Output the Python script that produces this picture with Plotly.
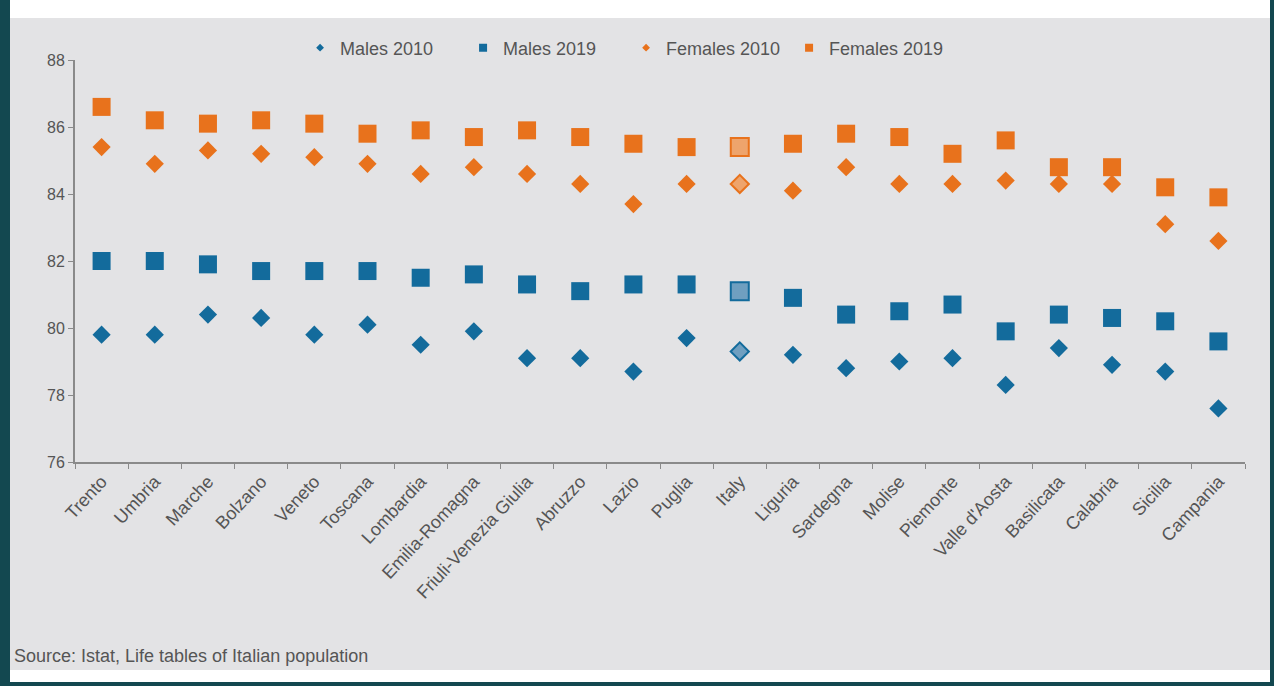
import plotly.graph_objects as go

regions = ["Trento", "Umbria", "Marche", "Bolzano", "Veneto", "Toscana", "Lombardia",
           "Emilia-Romagna", "Friuli-Venezia Giulia", "Abruzzo", "Lazio", "Puglia", "Italy",
           "Liguria", "Sardegna", "Molise", "Piemonte", "Valle d'Aosta", "Basilicata",
           "Calabria", "Sicilia", "Campania"]

males_2010 = [79.8, 79.8, 80.4, 80.3, 79.8, 80.1, 79.5, 79.9, 79.1, 79.1, 78.7, 79.7, 79.3,
              79.2, 78.8, 79.0, 79.1, 78.3, 79.4, 78.9, 78.7, 77.6]
males_2019 = [82.0, 82.0, 81.9, 81.7, 81.7, 81.7, 81.5, 81.6, 81.3, 81.1, 81.3, 81.3, 81.1,
              80.9, 80.4, 80.5, 80.7, 79.9, 80.4, 80.3, 80.2, 79.6]
females_2010 = [85.4, 84.9, 85.3, 85.2, 85.1, 84.9, 84.6, 84.8, 84.6, 84.3, 83.7, 84.3, 84.3,
                84.1, 84.8, 84.3, 84.3, 84.4, 84.3, 84.3, 83.1, 82.6]
females_2019 = [86.6, 86.2, 86.1, 86.2, 86.1, 85.8, 85.9, 85.7, 85.9, 85.7, 85.5, 85.4, 85.4,
                85.5, 85.8, 85.7, 85.2, 85.6, 84.8, 84.8, 84.2, 83.9]

series_names = ["Males 2010", "Males 2019", "Females 2010", "Females 2019"]
y_ticks = [76, 78, 80, 82, 84, 86, 88]
source_text = "Source: Istat, Life tables of Italian population"

BLUE = "#136b9c"
BLUE_LIGHT = "#6f9fc0"
ORANGE = "#e8721c"
ORANGE_LIGHT = "#eea46c"
FONT = "Liberation Sans, Arial, sans-serif"

W, H = 1274, 686
L, R, T, B = 75, 29, 60, 224
PW, PH = W - L - R, H - T - B


def px_x(px):
    return (px - L) / PW


def px_y(py):
    return (H - B - py) / PH


fig = go.Figure()

series = [
    (males_2010, "diamond", 14, BLUE, BLUE_LIGHT),
    (males_2019, "square", 18, BLUE, BLUE_LIGHT),
    (females_2010, "diamond", 14, ORANGE, ORANGE_LIGHT),
    (females_2019, "square", 18, ORANGE, ORANGE_LIGHT),
]

for name, (vals, sym, size, col, light) in zip(series_names, series):
    colors = [light if r == "Italy" else col for r in regions]
    lines = [col if r == "Italy" else "rgba(0,0,0,0)" for r in regions]
    fig.add_trace(go.Scatter(
        x=regions, y=vals, mode="markers", name=name, showlegend=False,
        marker=dict(symbol=sym, size=size, color=colors,
                    line=dict(color=lines, width=2)),
    ))
    fig.add_trace(go.Scatter(
        x=[None], y=[None], mode="markers", name=name, showlegend=True,
        marker=dict(symbol=sym, size=8 if sym == "square" else 6, color=col),
    ))

shapes = [
    dict(type="rect", xref="paper", yref="paper", x0=px_x(10), x1=px_x(1270),
         y0=px_y(18), y1=px_y(0), fillcolor="white", line_width=0, layer="below"),
    dict(type="rect", xref="paper", yref="paper", x0=px_x(10), x1=px_x(1270),
         y0=px_y(670), y1=px_y(18), fillcolor="#e3e3e5", line_width=0, layer="below"),
    dict(type="rect", xref="paper", yref="paper", x0=px_x(10), x1=px_x(1270),
         y0=px_y(682), y1=px_y(670), fillcolor="white", line_width=0, layer="below"),
]

fig.update_layout(
    width=W, height=H,
    margin=dict(l=L, r=R, t=T, b=B, pad=0),
    paper_bgcolor="#134850",
    plot_bgcolor="#e3e3e5",
    font=dict(family=FONT, size=15, color="#555555"),
    shapes=shapes,
    showlegend=True,
    legend=dict(orientation="h", x=0.471, xanchor="center", y=px_y(48), yanchor="middle",
                bgcolor="rgba(0,0,0,0)", font=dict(size=18, color="#555555"),
                itemsizing="trace", itemwidth=30, traceorder="normal",
                entrywidth=118, entrywidthmode="pixels"),
    annotations=[dict(text=source_text, xref="paper", yref="paper", x=px_x(12), y=px_y(656),
                      xanchor="left", yanchor="middle", showarrow=False,
                      font=dict(size=18, color="#555555", family=FONT))],
)

fig.update_xaxes(
    type="category", range=[-0.5, len(regions) - 0.5],
    showline=True, linecolor="#8a8a8a", linewidth=2,
    ticks="outside", ticklen=5, tickcolor="#8a8a8a", tickson="boundaries",
    tickangle=-47, tickfont=dict(size=18, color="#555555"),
    showgrid=False, zeroline=False,
)
fig.update_yaxes(
    range=[76, 88], tickvals=y_ticks, ticktext=[str(v) for v in y_ticks],
    showline=True, linecolor="#8a8a8a", linewidth=2,
    ticks="outside", ticklen=5, tickcolor="#8a8a8a",
    tickfont=dict(size=16, color="#555555"),
    showgrid=False, zeroline=False,
)

fig.write_html("out.html", config={"displayModeBar": False},
               post_script="document.body.style.margin='0';document.body.style.background='#134850';")
